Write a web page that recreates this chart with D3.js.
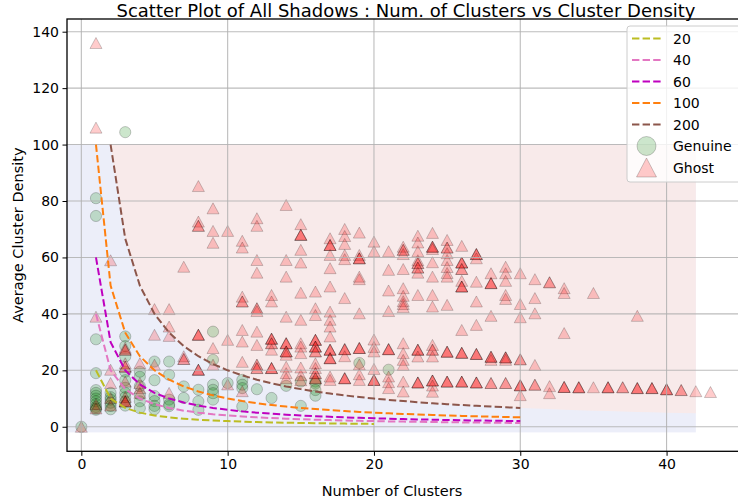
<!DOCTYPE html>
<html>
<head>
<meta charset="utf-8">
<script src="https://cdn.jsdelivr.net/npm/d3@7"></script>
<style>
  body { margin: 0; background: #fff; }
  svg { display: block; font-family: "DejaVu Sans", sans-serif; }
</style>
</head>
<body>
<svg id="chart" width="738" height="501"></svg>
<script>
// reference curves (density = points / clusters), values at integer cluster counts
const curveNames = ['20', '40', '60', '100', '200'];
const curveColors = ['#bcbd22', '#e377c2', '#bf00bf', '#ff7f0e', '#8c564b'];
const curveStartX = [1, 1, 1, 1, 2];
const curve20 = [20, 10, 6.67, 5, 4, 3.33, 2.86, 2.5, 2.22, 2, 1.82, 1.67, 1.54, 1.43, 1.33, 1.25, 1.18, 1.11, 1.05, 1];
const curve40 = [40, 20, 13.33, 10, 8, 6.67, 5.71, 5, 4.44, 4, 3.64, 3.33, 3.08, 2.86, 2.67, 2.5, 2.35, 2.22, 2.11, 2,
  1.9, 1.82, 1.74, 1.67, 1.6, 1.54, 1.48, 1.43, 1.38, 1.33];
const curve60 = [60, 30, 20, 15, 12, 10, 8.57, 7.5, 6.67, 6, 5.45, 5, 4.62, 4.29, 4, 3.75, 3.53, 3.33, 3.16, 3,
  2.86, 2.73, 2.61, 2.5, 2.4, 2.31, 2.22, 2.14, 2.07, 2];
const curve100 = [100, 50, 33.33, 25, 20, 16.67, 14.29, 12.5, 11.11, 10, 9.09, 8.33, 7.69, 7.14, 6.67, 6.25, 5.88, 5.56, 5.26, 5,
  4.76, 4.55, 4.35, 4.17, 4, 3.85, 3.7, 3.57, 3.45, 3.33];
const curve200 = [100, 66.67, 50, 40, 33.33, 28.57, 25, 22.22, 20, 18.18, 16.67, 15.38, 14.29, 13.33, 12.5, 11.76, 11.11, 10.53, 10,
  9.52, 9.09, 8.7, 8.33, 8, 7.69, 7.41, 7.14, 6.9, 6.67];
const curveValues = [curve20, curve40, curve60, curve100, curve200];

// shaded zones
const genuineZoneX = [-1, 42];
const genuineZoneY = [-2, 100];
const ghostZoneStartX = 2;
const ghostZoneTop = 100;
const ghostZoneFloor = [100, 66.67, 50, 40, 33.33, 28.57, 25, 22.22, 20, 18.18, 16.67, 15.38, 14.29, 13.33, 12.5, 11.76, 11.11, 10.53, 10,
  9.52, 9.09, 8.7, 8.33, 8, 7.69, 7.41, 7.14, 6.9, 6.67, 6.45, 6.25, 6.06, 5.88, 5.71, 5.56, 5.41, 5.26, 5.13, 5, 4.88, 4.76];

// [clusters, density]
const genuinePoints = [
  [0, 0],
  [1, 81], [1, 74.7], [1, 31], [1, 19], [1, 13], [1, 12], [1, 11], [1, 10], [1, 9], [1, 8], [1, 7], [1, 6.5], [1, 6],
  [2, 12], [2, 10.5], [2, 9.6], [2, 8.5], [2, 7.4], [2, 6.2],
  [3, 104.4], [3, 32], [3, 28.6], [3, 24.9], [3, 19.5], [3, 16.5], [3, 13.8], [3, 12], [3, 10.5], [3, 9], [3, 7.5],
  [4, 19.5], [4, 17.7], [4, 14.4], [4, 11.3], [4, 9], [4, 6.6],
  [5, 23.1], [5, 16.5], [5, 10.9], [5, 9.1], [5, 7.4], [5, 6.2],
  [6, 23.1], [6, 18.4], [6, 9.6], [6, 7.9], [6, 7.3],
  [7, 14.3], [7, 10.2],
  [8, 13.1], [8, 9], [8, 6],
  [9, 33.7], [9, 23.7], [9, 14.9], [9, 13.1], [9, 11.9], [9, 9.6],
  [10, 15.5],
  [11, 16.6], [11, 14.9], [11, 13.7], [11, 7.2],
  [12, 13.3],
  [13, 10.2],
  [14, 14.5],
  [15, 16], [15, 7.4],
  [16, 16], [16, 15.3], [16, 13], [16, 11],
  [19, 22.6],
  [21, 20.2]
];

const ghostPoints = [
  [0, 0],
  [1, 136], [1, 106], [1, 39], [1, 8], [1, 6.5],
  [2, 59], [2, 20.2], [2, 15.5], [2, 10.2], [2, 7.5],
  [3, 28], [3, 27.3], [3, 27.3], [3, 22.5], [3, 21.3], [3, 21.3], [3, 16], [3, 10.5], [3, 9], [3, 9], [3, 9],
  [4, 22.5], [4, 15.5], [4, 13.7], [4, 12],
  [5, 41.7], [5, 32.6], [5, 22],
  [6, 41.7], [6, 35.5], [6, 32.2], [6, 12],
  [7, 56.7], [7, 25], [7, 24], [7, 24],
  [8, 85.3], [8, 72.7], [8, 71.2], [8, 71.2], [8, 32.6], [8, 32.6], [8, 32.6], [8, 20.2], [8, 20.2], [8, 20.2],
  [9, 77.4], [9, 69.4], [9, 65.2], [9, 27.9], [9, 22],
  [10, 69.4], [10, 30.8], [10, 15],
  [11, 65.9], [11, 63.5], [11, 46.1], [11, 44.4], [11, 44.4], [11, 34.3], [11, 30.2], [11, 23], [11, 12.6],
  [12, 73.9], [12, 71.2], [12, 59.1], [12, 54.6], [12, 42], [12, 42], [12, 41], [12, 33.7], [12, 29],
  [12, 22], [12, 22], [12, 20.8], [12, 20.8],
  [13, 46.7], [13, 44.4], [13, 31.2], [13, 31.2], [13, 31.2], [13, 29.6], [13, 29.6], [13, 27.3],
  [13, 20.8], [13, 20.8], [13, 20.8],
  [14, 78.6], [14, 59.1], [14, 53.2], [14, 39], [14, 29.6], [14, 29.6], [14, 29.6], [14, 26.7], [14, 26.7], [14, 26.7],
  [14, 25.5], [14, 21.3], [14, 19], [14, 17.2],
  [15, 71.8], [15, 68], [15, 68], [15, 68], [15, 62.7], [15, 58.2], [15, 47.5], [15, 37.9], [15, 29.6], [15, 28.4],
  [15, 26.1], [15, 21], [15, 18.3], [15, 16.5],
  [16, 47.9], [16, 42], [16, 39.6], [16, 30.8], [16, 30.8], [16, 30.8], [16, 28.4], [16, 28.4], [16, 28.4],
  [16, 26.7], [16, 26.7], [16, 22.5], [16, 20.8], [16, 19], [16, 19], [16, 17.2], [16, 17.2],
  [17, 66.8], [17, 64.4], [17, 64.4], [17, 64.4], [17, 60.9], [17, 56.2], [17, 49.7], [17, 40.8], [17, 37.9],
  [17, 35.5], [17, 32], [17, 27.3], [17, 27.3], [17, 27.3], [17, 24.3], [17, 24.3], [17, 24.3], [17, 17.8], [17, 16.6],
  [18, 70.1], [18, 67.6], [18, 64.8], [18, 60.9], [18, 59.4], [18, 45.6], [18, 27.5], [18, 27.5], [18, 27.5],
  [18, 25], [18, 17.2], [18, 17.2], [18, 17.2],
  [19, 68.8], [19, 60.9], [19, 59.7], [19, 59.7], [19, 59.7], [19, 53.2], [19, 52.3], [19, 40.2],
  [19, 27.9], [19, 27.9], [19, 27.9], [19, 22.1], [19, 18.6], [19, 16.6],
  [20, 65.6], [20, 62.2], [20, 30.9], [20, 28.3], [20, 26.7], [20, 20.5], [20, 16.6], [20, 16.6], [20, 16.6],
  [21, 62.2], [21, 55.6], [21, 48.3], [21, 41], [21, 27.5], [21, 27.5], [21, 27.5], [21, 17.8], [21, 15.8], [21, 13.7],
  [22, 63.8], [22, 62.7], [22, 62.7], [22, 61.2], [22, 55.9], [22, 49.1], [22, 46.4], [22, 44.5], [22, 43.5],
  [22, 42.4], [22, 29.6], [22, 26.1], [22, 23.7], [22, 21.9], [22, 16], [22, 12.5],
  [23, 67.7], [23, 65.3], [23, 62.2], [23, 59], [23, 58], [23, 58], [23, 56.4], [23, 56.4], [23, 54.6], [23, 46.7],
  [23, 27.3], [23, 27.3], [23, 27.3], [23, 24.9], [23, 15.7], [23, 15.7], [23, 15.7],
  [24, 68.7], [24, 63.8], [24, 63.8], [24, 63.8], [24, 63], [24, 58.3], [24, 53.2], [24, 46.7], [24, 42.6],
  [24, 29], [24, 27.3], [24, 27.3], [24, 24.9], [24, 16.4], [24, 16.4], [24, 16.4], [24, 14.6], [24, 12.4],
  [25, 66.2], [25, 63.5], [25, 63.5], [25, 61.5], [25, 59.1], [25, 56.6], [25, 54.5], [25, 53.2], [25, 43.2],
  [25, 26.6], [25, 26.6], [25, 26.6], [25, 16], [25, 16], [25, 16],
  [26, 64.1], [26, 58.2], [26, 58.2], [26, 58.2], [26, 55.9], [26, 55.9], [26, 51.7], [26, 49.7], [26, 49.7],
  [26, 49.7], [26, 34.3], [26, 26.2], [26, 26.2], [26, 26.2], [26, 16], [26, 16], [26, 16],
  [27, 61.2], [27, 61.2], [27, 61.2], [27, 59.7], [27, 51.4], [27, 44.4], [27, 36.1], [27, 25.8], [27, 25.8],
  [27, 25.8], [27, 15.7], [27, 15.7], [27, 15.7],
  [28, 54.4], [28, 50.9], [28, 50.9], [28, 50.9], [28, 39.3], [28, 24.8], [28, 24.8], [28, 24.8], [28, 23.7],
  [28, 15.5], [28, 15.5],
  [29, 56.7], [29, 54.4], [29, 51.7], [29, 46.7], [29, 45.3], [29, 24.6], [29, 24.6], [29, 24.6], [29, 23.7],
  [29, 15.5], [29, 15.5],
  [30, 54.4], [30, 43.5], [30, 38.8], [30, 23.9], [30, 23.9], [30, 14.7], [30, 14.7], [30, 14.7], [30, 11.2],
  [31, 52.3], [31, 45.6], [31, 40.2], [31, 21.9], [31, 14.9], [31, 14.9],
  [32, 51.2], [32, 51.2], [32, 14.4], [32, 11.9],
  [33, 49.1], [33, 47.4], [33, 33.2], [33, 14.1], [33, 14.1], [33, 14.1],
  [34, 14], [34, 14], [34, 14],
  [35, 47.4], [35, 14],
  [36, 14], [36, 14], [36, 14],
  [37, 14], [37, 14],
  [38, 39.3], [38, 13.7], [38, 13.7], [38, 13.7],
  [39, 13.7], [39, 13.7], [39, 13.7],
  [40, 13.3], [40, 13.3], [40, 13.3],
  [41, 13], [41, 13],
  [42, 12.6],
  [43, 12.3]
];

const xTicks = [0, 10, 20, 30, 40];
const yTicks = [0, 20, 40, 60, 80, 100, 120, 140];
const legendLabels = ['20', '40', '60', '100', '200', 'Genuine', 'Ghost'];

const svg = d3.select('#chart');
const plotLeft = 67, plotRight = 745, plotTop = 19, plotBottom = 451.3;

const x = d3.scaleLinear().domain([-0.98, 45.36]).range([plotLeft, plotRight]);
const y = d3.scaleLinear().domain([-8.7, 144.5]).range([plotBottom, plotTop]);

// zones
svg.append('rect')
  .attr('x', x(genuineZoneX[0])).attr('y', y(genuineZoneY[1]))
  .attr('width', x(genuineZoneX[1]) - x(genuineZoneX[0]))
  .attr('height', y(genuineZoneY[0]) - y(genuineZoneY[1]))
  .attr('fill', '#eceef9');

const ghostArea = d3.area()
  .x((d, i) => x(ghostZoneStartX + i))
  .y0(d => y(d))
  .y1(() => y(ghostZoneTop));
svg.append('path')
  .attr('d', ghostArea(ghostZoneFloor))
  .attr('fill', '#f8eaea');

// triangle like matplotlib '^' (bbox centred)
function triPath(w, h) {
  return `M0,${-h / 2}L${w / 2},${h / 2}L${-w / 2},${h / 2}Z`;
}

svg.append('g').selectAll('circle')
  .data(genuinePoints)
  .enter()
  .append('circle')
  .attr('cx', d => x(d[0]))
  .attr('cy', d => y(d[1]))
  .attr('r', 5.6)
  .attr('fill', 'green').attr('fill-opacity', 0.2)
  .attr('stroke', 'black').attr('stroke-opacity', 0.2).attr('stroke-width', 1);

svg.append('g').selectAll('path')
  .data(ghostPoints)
  .enter()
  .append('path')
  .attr('transform', d => `translate(${x(d[0])},${y(d[1])})`)
  .attr('d', triPath(12, 11))
  .attr('fill', 'red').attr('fill-opacity', 0.2)
  .attr('stroke', 'black').attr('stroke-opacity', 0.2).attr('stroke-width', 1);

// grid
const grid = svg.append('g').attr('stroke', '#b0b0b0').attr('stroke-width', 1.1).attr('stroke-opacity', 0.85);
grid.selectAll('.gx').data(xTicks).enter().append('line')
  .attr('x1', d => x(d)).attr('x2', d => x(d)).attr('y1', plotTop).attr('y2', plotBottom);
grid.selectAll('.gy').data(yTicks).enter().append('line')
  .attr('y1', d => y(d)).attr('y2', d => y(d)).attr('x1', plotLeft).attr('x2', plotRight);

// reference curves
curveValues.forEach((vals, k) => {
  const line = d3.line()
    .x((d, i) => x(curveStartX[k] + i))
    .y(d => y(d));
  svg.append('path')
    .attr('d', line(vals))
    .attr('fill', 'none')
    .attr('stroke', curveColors[k])
    .attr('stroke-width', 2)
    .attr('stroke-dasharray', '7.4,3.2');
});

// axes
const xAxis = svg.append('g')
  .attr('transform', `translate(0,${plotBottom})`)
  .call(d3.axisBottom(x).tickValues(xTicks).tickSize(4.5).tickPadding(3.5));
const yAxis = svg.append('g')
  .attr('transform', `translate(${plotLeft},0)`)
  .call(d3.axisLeft(y).tickValues(yTicks).tickSize(4.5).tickPadding(3.5));
[xAxis, yAxis].forEach(a => {
  a.select('.domain').remove();
  a.selectAll('text').attr('font-size', 14).attr('font-family', 'DejaVu Sans').attr('fill', '#000');
  a.selectAll('line').attr('stroke', '#000');
});

svg.append('rect')
  .attr('x', plotLeft).attr('y', plotTop)
  .attr('width', plotRight - plotLeft).attr('height', plotBottom - plotTop)
  .attr('fill', 'none').attr('stroke', '#000').attr('stroke-width', 1.3);

// text
svg.append('text')
  .attr('x', 406).attr('y', 17)
  .attr('text-anchor', 'middle').attr('font-size', 18)
  .text('Scatter Plot of All Shadows : Num. of Clusters vs Cluster Density');
svg.append('text')
  .attr('x', 392).attr('y', 496)
  .attr('text-anchor', 'middle').attr('font-size', 14.5)
  .text('Number of Clusters');
svg.append('text')
  .attr('transform', `translate(23,${(plotTop + plotBottom) / 2}) rotate(-90)`)
  .attr('text-anchor', 'middle').attr('font-size', 14.5)
  .text('Average Cluster Density');

// legend
const legend = svg.append('g');
legend.append('rect')
  .attr('x', 627).attr('y', 26).attr('width', 130).attr('height', 156)
  .attr('rx', 3)
  .attr('fill', '#fff').attr('fill-opacity', 0.8)
  .attr('stroke', '#cccccc').attr('stroke-width', 1);
const rowY = d3.scaleLinear().domain([0, 6]).range([38.5, 167.5]);
legendLabels.forEach((lab, i) => {
  const cy = rowY(i);
  if (i < 5) {
    legend.append('line')
      .attr('x1', 632).attr('x2', 661).attr('y1', cy).attr('y2', cy)
      .attr('stroke', curveColors[i]).attr('stroke-width', 2)
      .attr('stroke-dasharray', '7.4,3.2');
  } else if (lab === 'Genuine') {
    legend.append('circle')
      .attr('cx', 646.5).attr('cy', cy).attr('r', 9.5)
      .attr('fill', 'green').attr('fill-opacity', 0.2)
      .attr('stroke', 'black').attr('stroke-opacity', 0.2);
  } else {
    legend.append('path')
      .attr('transform', `translate(646.5,${cy})`)
      .attr('d', triPath(20, 19))
      .attr('fill', 'red').attr('fill-opacity', 0.2)
      .attr('stroke', 'black').attr('stroke-opacity', 0.2);
  }
  legend.append('text')
    .attr('x', 673).attr('y', cy + 5)
    .attr('font-size', 14)
    .text(lab);
});
</script>
</body>
</html>
